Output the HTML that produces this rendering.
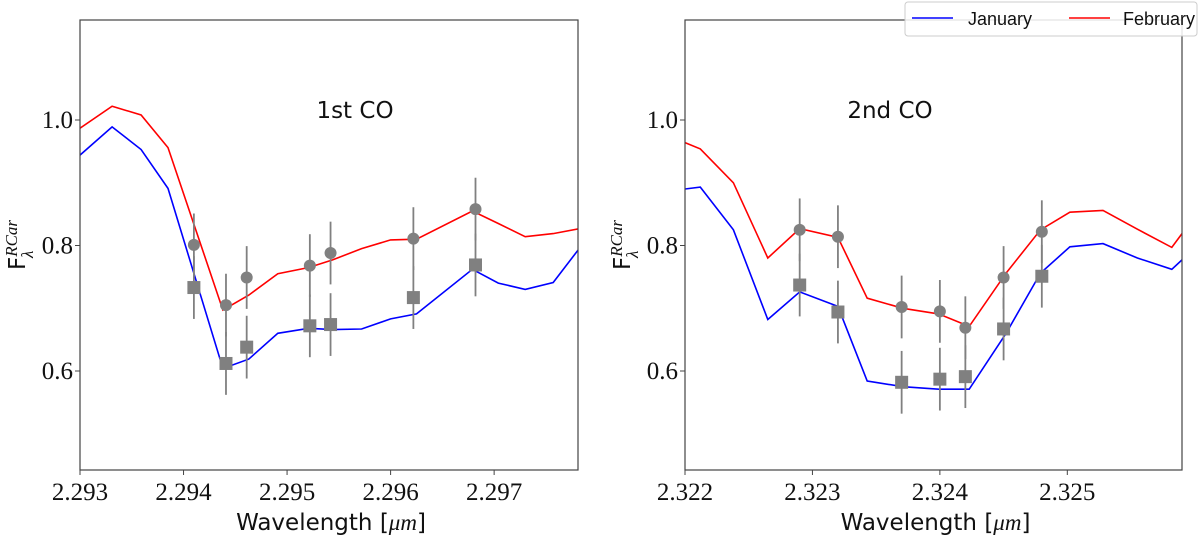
<!DOCTYPE html>
<html><head><meta charset="utf-8"><style>
body{margin:0;background:#fff;width:1200px;height:537px;overflow:hidden}
svg{display:block}
.tick{font-family:"Liberation Serif",serif;font-size:25px;fill:#111}
.lab{font-family:"DejaVu Sans","Liberation Sans",sans-serif;font-size:23px;fill:#111}
</style></head><body>
<svg id="chart" width="1200" height="537" viewBox="0 0 1200 537" xmlns="http://www.w3.org/2000/svg"></svg>
<script>
const yTicks=[0.6,0.8,1.0];
const xTicks1=[2.293,2.294,2.295,2.296,2.297];
const xTicks2=[2.322,2.323,2.324,2.325];
// panel 1 model
const p1Wave=[2.293,2.29331,2.29359,2.29385,2.29438,2.29463,2.29491,2.29521,2.29544,2.29572,2.29600,2.29625,2.29679,2.29704,2.29730,2.29757,2.29783];
const p1Jan=[0.944,0.989,0.953,0.891,0.604,0.619,0.660,0.668,0.666,0.667,0.683,0.691,0.762,0.740,0.730,0.741,0.797];
const p1Feb=[0.987,1.022,1.008,0.956,0.697,0.721,0.755,0.765,0.777,0.795,0.809,0.810,0.855,0.835,0.814,0.819,0.827];
const p1ObsX=[2.29410,2.29441,2.29461,2.29522,2.29542,2.29622,2.29682];
const p1Circ=[0.801,0.705,0.749,0.768,0.788,0.811,0.858];
const p1Sq=[0.733,0.612,0.638,0.672,0.674,0.717,0.769];
// panel 2 model
const p2Wave=[2.322,2.32212,2.32238,2.32265,2.32290,2.32320,2.32343,2.32371,2.32399,2.32423,2.32452,2.32479,2.32502,2.32528,2.32555,2.32582,2.3259];
const p2Jan=[0.890,0.893,0.825,0.682,0.726,0.703,0.584,0.575,0.571,0.571,0.660,0.756,0.798,0.803,0.780,0.762,0.777];
const p2Feb=[0.964,0.954,0.900,0.780,0.827,0.813,0.716,0.700,0.691,0.671,0.756,0.825,0.853,0.856,0.826,0.797,0.819];
const p2ObsX=[2.32290,2.32320,2.32370,2.32400,2.32420,2.32450,2.32480];
const p2Circ=[0.825,0.814,0.702,0.695,0.669,0.749,0.822];
const p2Sq=[0.737,0.694,0.582,0.587,0.591,0.667,0.751];
const errBar=0.05;

const NS="http://www.w3.org/2000/svg";
const svg=document.getElementById('chart');
function mk(tag,attrs,parent){const e=document.createElementNS(NS,tag);for(const k in attrs)e.setAttribute(k,attrs[k]);(parent||svg).appendChild(e);return e;}
const yTop=20,yBot=470;
function yS(v){return 120-(v-1.0)/0.2*125.5;}

function panel(id,L,R,x0,x1,ticks,wave,jan,feb,ox,circ,sq,title,tx){
  const g=mk('g',{});
  
  
  const xS=v=>L+(v-x0)/(x1-x0)*(R-L);
  const clip=mk('clipPath',{id:id+'-clip'},g);
  mk('rect',{x:L,y:yTop,width:R-L,height:yBot-yTop},clip);
  const pg=mk('g',{'clip-path':'url(#'+id+'-clip)'},g);
  const pts=(xs,ys)=>xs.map((x,i)=>xS(x).toFixed(1)+','+yS(ys[i]).toFixed(1)).join(' ');
  const lj=mk('polyline',{points:pts(wave,jan),fill:'none',stroke:'#0000ff','stroke-width':1.6},pg);
  
  
  const lf=mk('polyline',{points:pts(wave,feb),fill:'none',stroke:'#ff0000','stroke-width':1.6},pg);
  
  
  ox.forEach((x,i)=>{
    const cx=xS(x);
    [circ[i],sq[i]].forEach(v=>{
      const eb=mk('line',{x1:cx,x2:cx,y1:yS(v-errBar),y2:yS(v+errBar),stroke:'#808080','stroke-width':1.8},pg);
      
      
    });
    const c=mk('circle',{cx:cx,cy:yS(circ[i]),r:6,fill:'#808080'},pg);
    
    
    const s=mk('rect',{x:cx-6.5,y:yS(sq[i])-6.5,width:13,height:13,fill:'#808080'},pg);
    
    
  });
  const fr=mk('rect',{x:L,y:yTop,width:R-L,height:yBot-yTop,fill:'none',stroke:'#444','stroke-width':1.2},g);
  
  
  ticks.forEach(t=>{
    const x=xS(t);
    mk('line',{x1:x,x2:x,y1:yBot,y2:yBot+5,stroke:'#444'},g);
    const tl=mk('text',{x:x,y:500,'text-anchor':'middle',class:'tick'},g);
    tl.textContent=t.toFixed(3);
    
    
  });
  yTicks.forEach(t=>{
    const y=yS(t);
    mk('line',{x1:L-5,x2:L,y1:y,y2:y,stroke:'#444'},g);
    const tl=mk('text',{x:L-7,y:y+8,'text-anchor':'end',class:'tick'},g);
    tl.textContent=t.toFixed(1);
    
    
  });
  const xl=mk('text',{x:(L+R)/2+2,y:530,'text-anchor':'middle',class:'lab'},g);
  xl.innerHTML='Wavelength [<tspan font-family="Liberation Serif" font-style="italic">μm</tspan>]';
  
  
  const yl=mk('text',{transform:'translate('+(L-55)+',245) rotate(-90)','text-anchor':'middle',class:'lab'},g);
  yl.innerHTML='F<tspan font-family="Liberation Serif" font-style="italic" font-size="17" dy="-8">RCar</tspan><tspan font-family="Liberation Serif" font-style="italic" font-size="17" dx="-38" dy="16">λ</tspan>';
  
  
  const tt=mk('text',{x:tx,y:118,'text-anchor':'middle',class:'lab'},g);
  tt.textContent=title;
  
  
}
panel('panel-1st-co',80,578,2.293,2.29781,xTicks1,p1Wave,p1Jan,p1Feb,p1ObsX,p1Circ,p1Sq,'1st CO',355);
panel('panel-2nd-co',685,1182,2.322,2.3259,xTicks2,p2Wave,p2Jan,p2Feb,p2ObsX,p2Circ,p2Sq,'2nd CO',890);

const lg=mk('g',{});


mk('rect',{x:905,y:2,width:292,height:34,rx:3,fill:'rgba(255,255,255,0.85)',stroke:'#ccc'},lg);
mk('line',{x1:912,x2:953,y1:18,y2:18,stroke:'#0000ff','stroke-width':1.6},lg);
mk('line',{x1:1069,x2:1110,y1:18,y2:18,stroke:'#ff0000','stroke-width':1.6},lg);
const t1=mk('text',{x:968,y:25,'font-family':'Liberation Sans, sans-serif','font-size':'18',fill:'#111'},lg);t1.textContent='January';


const t2=mk('text',{x:1123,y:25,'font-family':'Liberation Sans, sans-serif','font-size':'18',fill:'#111'},lg);t2.textContent='February';


</script>
</body></html>
